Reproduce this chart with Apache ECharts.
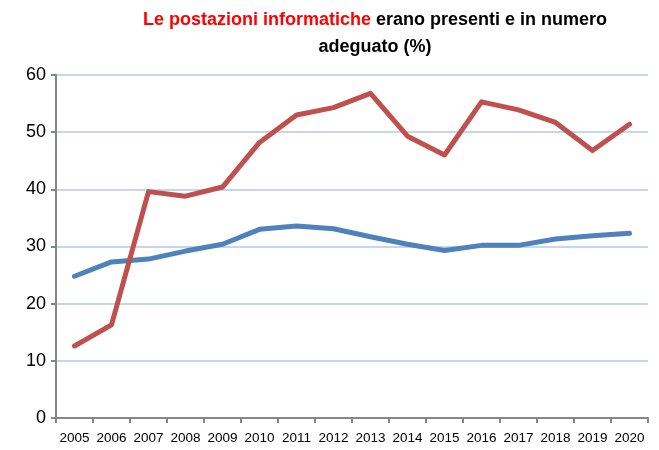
<!DOCTYPE html>
<html>
<head>
<meta charset="utf-8">
<script src="https://cdn.jsdelivr.net/npm/echarts@6/dist/echarts.min.js"></script>
<style>
  html, body { margin: 0; padding: 0; background: #fff; }
  #main { width: 659px; height: 450px; }
</style>
</head>
<body>
<div id="main"></div>
<script>
// anni (asse x)
var years = ['2005', '2006', '2007', '2008', '2009', '2010', '2011', '2012',
             '2013', '2014', '2015', '2016', '2017', '2018', '2019', '2020'];
// serie blu
var blueValues = [24.8, 27.3, 27.8, 29.2, 30.4, 33.0, 33.6, 33.1,
                  31.7, 30.4, 29.3, 30.2, 30.2, 31.3, 31.9, 32.3];
// serie rossa
var redValues = [12.6, 16.3, 39.6, 38.8, 40.4, 48.2, 53.0, 54.3,
                 56.8, 49.3, 46.0, 55.3, 53.9, 51.7, 46.8, 51.4];

var myChart = echarts.init(document.getElementById('main'));

var option = {
    backgroundColor: '#ffffff',
    animation: false,
    title: {
        left: 370,
        top: 2,
        textAlign: 'center',
        text: '{r|Le postazioni informatiche} {k|erano presenti e in numero}\n{k|adeguato (%)}',
        textStyle: {
            rich: {
                r: { color: '#ff0000', fontSize: 18, fontWeight: 'bold', fontFamily: 'Liberation Sans', lineHeight: 27 },
                k: { color: '#000000', fontSize: 18, fontWeight: 'bold', fontFamily: 'Liberation Sans', lineHeight: 27 }
            }
        }
    },
    grid: {
        left: 56,
        right: 11,
        top: 75,
        bottom: 32
    },
    xAxis: {
        type: 'category',
        data: years,
        boundaryGap: true,
        axisLine: { lineStyle: { color: '#868686', width: 2 } },
        axisTick: { show: true, length: 5, alignWithLabel: false, lineStyle: { color: '#868686', width: 2 } },
        axisLabel: {
            color: '#000',
            fontSize: 13.5,
            fontFamily: 'Liberation Sans',
            margin: 13,
            interval: 0
        },
        splitLine: { show: false }
    },
    yAxis: {
        type: 'value',
        min: 0,
        max: 60,
        interval: 10,
        axisLine: { show: true, lineStyle: { color: '#868686', width: 2 } },
        axisTick: { show: true, length: 5, lineStyle: { color: '#868686', width: 2 } },
        axisLabel: {
            color: '#000',
            fontSize: 18,
            fontFamily: 'Liberation Sans',
            margin: 10
        },
        splitLine: { show: true, lineStyle: { color: '#c6d6ee', width: 2 } }
    },
    series: [{
        name: 'blu',
        type: 'line',
        data: blueValues,
        symbol: 'none',
        lineStyle: { color: '#4f81bd', width: 5, cap: 'round', join: 'round' },
        itemStyle: { color: '#4f81bd' }
    }, {
        name: 'rosso',
        type: 'line',
        data: redValues,
        symbol: 'none',
        lineStyle: { color: '#c0504d', width: 5, cap: 'round', join: 'round' },
        itemStyle: { color: '#c0504d' }
    }]
};

myChart.setOption(option);
</script>
</body>
</html>
